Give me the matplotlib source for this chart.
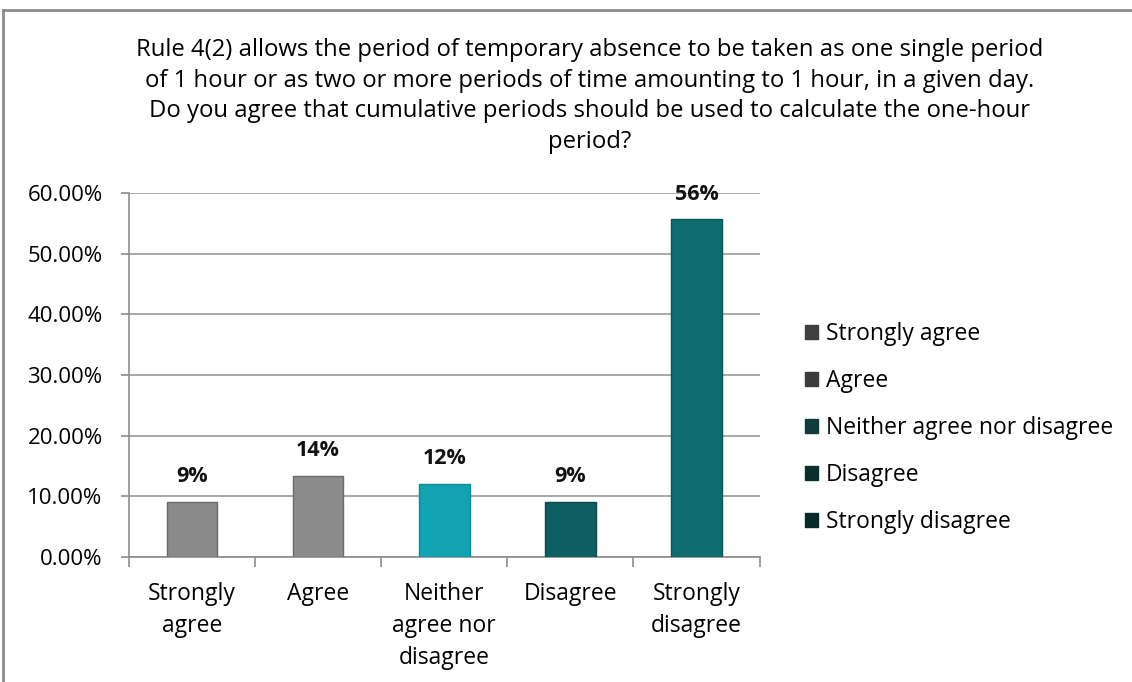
import matplotlib.pyplot as plt
from matplotlib.lines import Line2D
from matplotlib.patches import Patch
import numpy as np

plt.rcParams['font.family'] = ['Open Sans', 'DejaVu Sans']

# Data
categories = ["Strongly agree", "Agree", "Neither agree nor disagree", "Disagree", "Strongly disagree"]
tick_labels = ["Strongly\nagree", "Agree", "Neither\nagree nor\ndisagree", "Disagree", "Strongly\ndisagree"]
values = [0.091, 0.134, 0.121, 0.091, 0.557]
value_labels = ["9%", "14%", "12%", "9%", "56%"]
bar_colors = ["#8a8a8a", "#8c8c8c", "#12a3b3", "#0d5f62", "#0f6c70"]
edge_colors = ["#6a6a6a", "#6c6c6c", "#0d8a98", "#0a4a4c", "#0a5356"]
legend_colors = ["#404040", "#3c3c3c", "#0e3d3c", "#0b2e2e", "#0a2a2a"]

title = ("Rule 4(2) allows the period of temporary absence to be taken as one single period\n"
         "of 1 hour or as two or more periods of time amounting to 1 hour, in a given day.\n"
         "Do you agree that cumulative periods should be used to calculate the one-hour\n"
         "period?")

fig = plt.figure(figsize=(11.32, 6.82), dpi=100)

# Outer chart frame (top and left edges visible)
fig.add_artist(Line2D([0.003, 0.003], [0.0, 0.985], transform=fig.transFigure, color="#8c8c8c", lw=2))
fig.add_artist(Line2D([0.003, 1.0], [0.985, 0.985], transform=fig.transFigure, color="#8c8c8c", lw=2))

ax = fig.add_axes([0.114, 0.1833, 0.557, 0.5337])

x = np.arange(len(categories))
ax.bar(x, values, width=0.4, color=bar_colors, edgecolor=edge_colors, linewidth=1, zorder=3)

for i, v in enumerate(values):
    ax.text(i, v + 0.024, value_labels[i], ha='center', va='bottom',
            fontsize=15.5, fontweight='bold', color='#111111', zorder=4)

ax.set_xlim(-0.5, 4.5)
ax.set_ylim(0, 0.6)
ax.set_yticks(np.arange(0, 0.61, 0.1))
ax.set_yticklabels([f"{t*100:.2f}%" for t in np.arange(0, 0.61, 0.1)])
ax.yaxis.grid(True, color="#9a9a9a", linewidth=1.2, zorder=0)
ax.set_axisbelow(True)

ax.set_xticks(x)
ax.set_xticklabels(tick_labels, fontsize=16.5, linespacing=1.45)
ax.tick_params(axis='x', which='major', length=0, pad=18)
ax.set_xticks(np.arange(-0.5, 5, 1), minor=True)
ax.tick_params(axis='x', which='minor', length=7, color="#8c8c8c", width=1.2, direction='out')
ax.tick_params(axis='y', length=6, color="#8c8c8c", width=1.2, labelsize=16, pad=13)

for s in ['top', 'right']:
    ax.spines[s].set_visible(False)
for s in ['left', 'bottom']:
    ax.spines[s].set_color("#8c8c8c")
    ax.spines[s].set_linewidth(1.2)

handles = [Patch(facecolor=c, edgecolor=c) for c in legend_colors]
fig.legend(handles, categories, loc='center left', bbox_to_anchor=(0.693, 0.372),
           frameon=False, fontsize=16.5, handlelength=0.55, handleheight=0.55,
           handletextpad=0.35, labelspacing=1.0)

fig.text(0.521, 0.944, title, ha='center', va='top', fontsize=17.2, linespacing=1.36)

plt.savefig("out.png", dpi=100)
plt.close()
